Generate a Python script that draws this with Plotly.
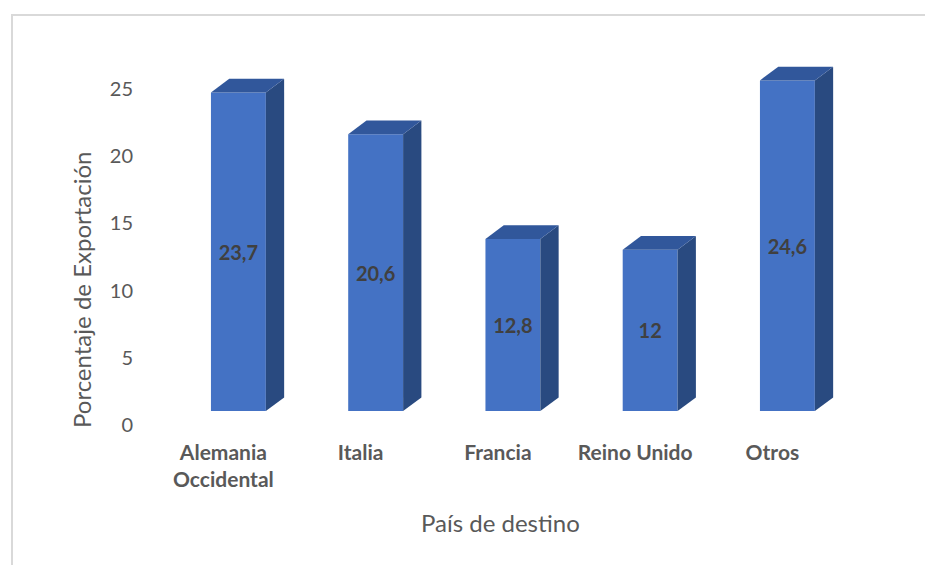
import plotly.graph_objects as go

# ---- data ----
categories = ["Alemania<br>Occidental", "Italia", "Francia", "Reino Unido", "Otros"]
values = [23.7, 20.6, 12.8, 12, 24.6]
y_ticks = [0, 5, 10, 15, 20, 25]
x_title = "País de destino"
y_title = "Porcentaje de Exportación"

# ---- styling / geometry (page pixels, minus the page's 8px body margin) ----
OFF = 8
W_FIG, H_FIG = 933, 565
L, R, T, B = 136 - OFF, 860 - OFF, 40 - OFF, 411 - OFF   # plot area
PX_PER_X = 137.25
PX_PER_Y = 13.44
x0 = -(238.4 - OFF - L) / PX_PER_X
x1 = x0 + (R - L) / PX_PER_X
y1 = (B - T) / PX_PER_Y

BAR_W = 0.4
DX = 18.3 / PX_PER_X
DY = 13.6 / PX_PER_Y

FRONT = "#4472C4"
TOP = "#31579B"
SIDE = "#294A80"
FONT = "Lato, 'Open Sans', sans-serif"
GREY = "#595959"

xs = list(range(len(categories)))
texts = [f"{v:g}".replace(".", ",") for v in values]

fig = go.Figure()

# front faces
fig.add_trace(go.Bar(
    x=xs, y=values, width=BAR_W,
    marker=dict(color=FRONT, line=dict(width=0)),
    text=texts, textposition="inside", insidetextanchor="middle",
    textangle=0, constraintext="none",
    textfont=dict(family=FONT, size=20, color="#404040", weight="bold"),
    hoverinfo="skip", showlegend=False,
))

# side and top faces (depth) derived from the data values
for x, v in zip(xs, values):
    xl, xr = x - BAR_W / 2, x + BAR_W / 2
    fig.add_trace(go.Scatter(
        x=[xr, xr + DX, xr + DX, xr, xr],
        y=[0, DY, v + DY, v, 0],
        fill="toself", fillcolor=SIDE, mode="lines",
        line=dict(width=0, color=SIDE), hoverinfo="skip", showlegend=False,
    ))
    fig.add_trace(go.Scatter(
        x=[xl, xl + DX, xr + DX, xr, xl],
        y=[v, v + DY, v + DY, v, v],
        fill="toself", fillcolor=TOP, mode="lines",
        line=dict(width=0, color=TOP), hoverinfo="skip", showlegend=False,
    ))

def px_x(p):
    return (p - OFF - L) / (R - L)

def px_y(p):
    return (B - (p - OFF)) / (B - T)

fig.update_layout(
    width=W_FIG, height=H_FIG,
    margin=dict(l=L, r=W_FIG - R, t=T, b=H_FIG - B, autoexpand=False),
    paper_bgcolor="white", plot_bgcolor="white",
    font=dict(family=FONT, color=GREY),
    xaxis=dict(
        range=[x0, x1], tickvals=xs, ticktext=categories,
        showgrid=False, zeroline=False, showline=False, ticks="",
        tickfont=dict(family=FONT, size=21, color=GREY, weight="bold"),
        ticklabelshift=-15, ticklabelstandoff=27, fixedrange=True,
    ),
    yaxis=dict(
        range=[0, y1], tickvals=y_ticks,
        showgrid=False, zeroline=False, showline=False, ticks="",
        tickfont=dict(family=FONT, size=20, color=GREY),
        ticklabelshift=14, ticklabelstandoff=2, fixedrange=True,
    ),
    shapes=[dict(
        type="rect", xref="paper", yref="paper", layer="below",
        x0=px_x(12), x1=px_x(W_FIG + 20), y0=px_y(H_FIG + 20), y1=px_y(15),
        line=dict(color="#D9D9D9", width=2), fillcolor="rgba(0,0,0,0)",
    )],
    annotations=[
        dict(text=y_title, textangle=-90, xref="paper", yref="paper",
             x=px_x(81), y=px_y(290), showarrow=False,
             xanchor="center", yanchor="middle",
             font=dict(family=FONT, size=24, color=GREY)),
        dict(text=x_title, xref="paper", yref="paper",
             x=px_x(500), y=px_y(522), showarrow=False,
             xanchor="center", yanchor="middle",
             font=dict(family=FONT, size=24, color=GREY)),
    ],
)

fig.write_html("out.html")
